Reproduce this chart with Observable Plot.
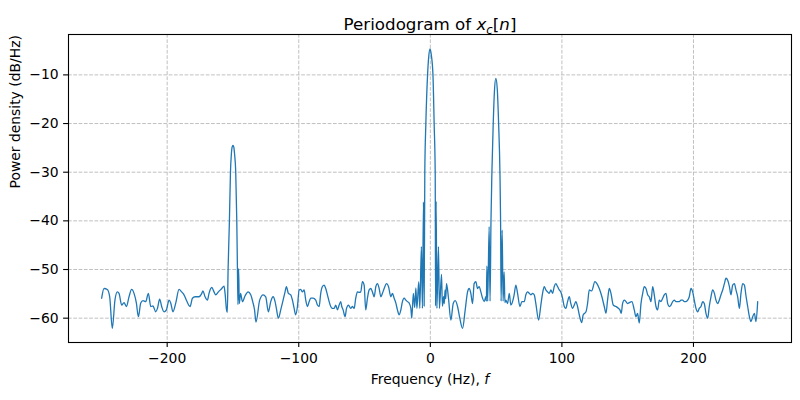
<!DOCTYPE html>
<html><head><meta charset="utf-8">
<script src="https://cdn.jsdelivr.net/npm/d3@7"></script>
<script src="https://cdn.jsdelivr.net/npm/@observablehq/plot@0.6"></script>
<style>body{margin:0;background:#fff} svg{display:block}</style>
</head><body><div id="chart"></div>
<script>
const titleText = "Periodogram of x_c[n]";
const xLabel = "Frequency (Hz), f";
const yLabel = "Power density (dB/Hz)";
const xTicks = [-200, -100, 0, 100, 200];
const yTicks = [-60, -50, -40, -30, -20, -10];

// [frequency Hz, power dB/Hz]
const noiseFarLeft = [[-249.8,-55.9],[-248.0,-53.9],[-245.5,-54.1],[-243.7,-55.6],[-241.7,-62.1],[-239.7,-56.3],[-237.9,-54.6],[-236.6,-54.9],[-234.6,-57.3],[-232.8,-56.8],[-231.0,-57.6],[-229.0,-55.6],[-227.0,-54.1],[-225.2,-54.9],[-223.4,-56.9],[-221.9,-59.7],[-220.1,-56.9],[-218.4,-56.4],[-216.3,-56.6],[-214.3,-54.9],[-212.5,-57.6],[-210.8,-57.5],[-208.7,-58.7],[-207.4,-58.0],[-205.7,-56.1],[-204.2,-57.6],[-202.4,-58.7],[-200.6,-58.3],[-198.6,-56.3],[-197.3,-56.9],[-195.6,-58.7],[-193.5,-56.9],[-191.0,-54.1],[-189.0,-54.6],[-187.2,-55.2],[-185.4,-56.3],[-182.6,-57.6],[-180.8,-55.9],[-178.8,-55.6],[-175.8,-55.6],[-173.7,-54.9],[-172.8,-54.4],[-171.2,-55.6],[-169.4,-56.3],[-168.2,-54.9],[-166.1,-53.7],[-164.4,-54.6],[-163.1,-55.2],[-161.1,-54.6],[-158.5,-53.9],[-156.8,-53.4],[-156.0,-54.9],[-154.9,-58.3]];
const peakMinus150 = [[-154.3,-58.8],[-153.7,-50],[-152.7,-40],[-151.9,-30],[-151.2,-26.2],[-150.6,-24.8],[-150.0,-24.5],[-149.4,-24.8],[-148.8,-26.2],[-147.9,-30],[-147.1,-40],[-146.6,-50],[-146.2,-57.2],[-145.7,-49.8],[-145.2,-57.0],[-144.2,-54.9],[-142.8,-56.6],[-140.8,-55.4],[-138.5,-54.6],[-136.5,-55.2],[-135.0,-56.6],[-133.6,-58.3],[-132.5,-60.8]];
const noiseMidLeft = [[-129.7,-56.3],[-127.1,-55.2],[-125.1,-55.6],[-123.1,-58.7],[-121.3,-56.6],[-119.5,-55.6],[-118.0,-56.6],[-117.0,-58.0],[-115.5,-60.0],[-113.7,-58.3],[-111.9,-56.3],[-110.4,-54.6],[-109.4,-53.5],[-107.9,-54.9],[-106.1,-55.2],[-104.8,-56.3],[-103.5,-58.0],[-102.3,-59.3],[-101.0,-57.6],[-99.7,-54.2],[-98.5,-54.1],[-97.2,-54.6],[-95.9,-54.2],[-94.7,-56.3],[-93.4,-57.6],[-92.1,-56.6],[-90.9,-55.9],[-89.1,-55.9],[-87.1,-56.3],[-85.8,-57.3],[-84.5,-57.6],[-83.3,-54.9],[-82.0,-53.5],[-80.7,-53.2],[-79.5,-53.9],[-78.2,-55.2],[-76.9,-56.6],[-75.7,-57.6],[-74.4,-58.0],[-73.1,-58.0],[-71.9,-57.3],[-70.6,-58.3],[-69.3,-57.3],[-68.1,-56.6],[-67.3,-57.6],[-66.3,-58.3],[-64.8,-59.7],[-63.7,-58.0],[-62.2,-57.3],[-60.5,-58.0],[-59.2,-57.6],[-57.9,-58.0],[-56.7,-55.9],[-55.4,-54.6],[-54.1,-54.7],[-52.9,-54.6],[-51.6,-52.5],[-50.3,-53.2],[-49.1,-58.3],[-47.8,-55.9],[-46.5,-54.2],[-45.2,-53.9],[-44.0,-54.6],[-42.7,-55.6],[-41.4,-53.5],[-40.2,-52.9],[-38.9,-53.9],[-37.6,-55.6],[-36.4,-54.9],[-35.1,-53.9],[-33.3,-52.9],[-31.8,-53.5],[-30.0,-55.6],[-28.8,-54.9],[-27.5,-55.9],[-26.2,-56.9],[-25.0,-58.3],[-23.7,-59.3],[-22.4,-58.3],[-21.2,-56.6],[-19.9,-55.9],[-18.6,-56.3],[-17.4,-56.6],[-16.1,-56.9],[-14.8,-58.0],[-14.1,-60.0]];
const peakZero = [[-12.9,-54.9],[-11.9,-57.8],[-11.0,-53.8],[-10.2,-58.0],[-8.8,-52.5],[-8.0,-58.0],[-6.8,-45.3],[-6.0,-58.0],[-5.2,-36.1],[-4.7,-57.5],[-4.2,-30],[-3.4,-20],[-2.1,-10],[-1.2,-6.2],[-0.2,-4.65],[0.8,-6.0],[2.0,-10],[2.9,-20],[3.7,-30],[4.0,-57.5],[4.4,-36.0],[5.0,-58.0],[6.2,-45.3],[6.9,-58.0],[8.5,-51.0],[9.2,-57.5],[10.1,-55.6],[10.6,-57.0],[11.2,-54.2],[11.7,-56.0],[12.3,-52.9]];
const noiseCentre = [[13.8,-55.9],[15.6,-60.4],[17.4,-57.0],[18.9,-56.4],[20.7,-57.6],[22.4,-60.0],[24.5,-62.1],[26.5,-58.3],[28.3,-54.6],[29.5,-53.9],[30.8,-54.9],[32.1,-57.0],[33.3,-52.9],[34.6,-52.5],[35.9,-53.9],[37.1,-53.5],[38.4,-54.6],[39.7,-55.9],[41.0,-56.6],[42.2,-55.6]];
const peak50 = [[42.6,-56.5],[43.0,-49.3],[43.6,-56.5],[44.7,-41.2],[45.4,-56.5],[46.1,-40],[46.8,-30],[47.8,-20],[48.8,-13],[49.8,-10.7],[50.9,-13],[51.9,-20],[52.9,-30],[53.4,-40],[53.8,-56.5],[54.6,-41.9],[55.3,-56.5],[56.1,-50.5],[56.7,-56.8],[57.4,-56.3],[58.7,-57.0]];
const noiseMidRight = [[60.0,-54.9],[61.2,-57.3],[62.5,-56.6],[63.7,-55.2],[65.0,-53.2],[66.3,-54.9],[68.1,-57.6],[69.6,-56.6],[71.4,-56.6],[72.6,-55.2],[73.9,-54.6],[75.2,-54.9],[76.4,-55.2],[77.7,-54.9],[79.0,-55.2],[80.2,-57.0],[82.3,-60.4],[84.0,-57.3],[85.3,-54.9],[86.6,-53.5],[87.8,-54.2],[89.1,-54.6],[90.4,-54.9],[91.6,-54.2],[92.9,-54.9],[94.2,-53.5],[95.4,-52.9],[96.7,-53.5],[98.0,-54.2],[99.2,-54.6],[100.5,-55.9],[101.8,-57.6],[103.0,-58.0],[104.3,-56.6],[105.6,-55.6],[106.8,-57.0],[108.1,-58.0],[109.4,-57.3],[110.6,-56.6]];
const noiseFarRight = [[111.9,-57.6],[113.2,-59.3],[115.0,-60.9],[116.2,-59.3],[118.3,-58.7],[119.5,-57.0],[120.8,-54.2],[122.6,-54.4],[125.1,-52.5],[126.6,-52.9],[128.4,-53.9],[130.4,-55.6],[132.2,-57.6],[133.5,-59.0],[134.7,-56.3],[136.0,-53.9],[137.3,-54.9],[139.0,-57.3],[141.1,-57.6],[143.1,-58.0],[144.1,-58.3],[145.1,-59.0],[146.1,-57.0],[147.4,-56.3],[148.7,-56.6],[149.9,-57.0],[151.2,-56.8],[153.2,-56.6],[155.0,-58.3],[156.3,-59.7],[157.5,-59.0],[158.8,-61.0],[160.1,-57.0],[161.4,-54.9],[162.6,-53.5],[163.9,-53.9],[165.2,-55.2],[166.4,-55.6],[167.7,-56.6],[169.0,-53.5],[170.2,-55.2],[171.5,-57.6],[172.8,-58.3],[174.0,-56.3],[175.3,-56.6],[176.6,-55.9],[177.8,-55.2],[179.1,-54.9],[180.4,-57.0],[181.6,-57.6],[182.9,-57.3],[184.2,-56.6],[185.4,-56.3],[186.7,-56.6],[188.0,-56.6],[189.2,-56.6],[190.5,-56.3],[191.8,-56.3],[193.0,-56.6],[194.3,-56.6],[195.6,-56.3],[196.8,-55.6],[198.1,-53.9],[199.4,-54.6],[200.6,-56.3],[201.9,-58.0],[203.2,-58.7],[204.4,-58.0],[205.7,-57.6],[207.0,-56.6],[208.2,-57.0],[209.5,-59.0],[210.8,-60.0],[212.0,-57.6],[213.3,-55.6],[214.6,-54.2],[215.9,-54.9],[217.1,-56.3],[218.4,-57.0],[219.6,-56.3],[220.9,-55.2],[222.2,-54.2],[223.5,-52.9],[224.7,-51.8],[226.0,-52.2],[227.3,-53.5],[228.5,-55.2],[229.8,-53.2],[231.1,-52.9],[232.3,-54.2],[233.6,-55.6],[234.9,-58.0],[236.1,-54.9],[237.4,-52.9],[238.7,-53.2],[240.0,-55.6],[241.2,-57.6],[242.5,-59.7],[243.7,-60.7],[245.0,-59.7],[246.3,-59.0],[247.5,-60.7],[248.8,-56.6]];

const data = [...noiseFarLeft, ...peakMinus150, ...noiseMidLeft, ...peakZero, ...noiseCentre, ...peak50, ...noiseMidRight, ...noiseFarRight]
  .map(([f, p]) => ({f, p}));

const fmt = d => d < 0 ? "\u2212" + Math.abs(d) : String(d);
const gridStyle = {stroke: "#b0b0b0", strokeOpacity: 1, strokeWidth: 0.8, strokeDasharray: "3.7,1.6"};

const chart = Plot.plot({
  width: 800, height: 400,
  marginTop: 34, marginBottom: 58, marginLeft: 68, marginRight: 9,
  style: {fontFamily: "'DejaVu Sans', sans-serif", fontSize: "13.9px", background: "white", color: "black", overflow: "visible"},
  x: {domain: [-275, 274.5]},
  y: {domain: [-65, -1.7]},
  marks: [
    Plot.gridX(xTicks, gridStyle),
    Plot.gridY(yTicks, gridStyle),
    Plot.line(data, {x: "f", y: "p", stroke: "#1f77b4", strokeWidth: 1.3, curve: "monotone-x"}),
    Plot.frame({stroke: "black", strokeWidth: 1.1}),
    Plot.axisX(xTicks, {tickSize: 4.9, tickPadding: 5.6, tickFormat: fmt, label: null, strokeWidth: 1.1}),
    Plot.axisY(yTicks, {tickSize: 4.9, tickPadding: 4.9, tickFormat: fmt, label: null, strokeWidth: 1.1}),
    Plot.text([titleText], {text: d => d, frameAnchor: "top", dy: -16.3, fontSize: 16.7}),
    Plot.text([xLabel], {text: d => d, frameAnchor: "bottom", dy: 41}),
    Plot.text([yLabel], {text: d => d, frameAnchor: "left", rotate: -90, dx: -52.5})
  ]
});
document.getElementById("chart").appendChild(chart);

const root = d3.select(chart);
root.selectAll("text").filter(function() { return this.textContent === titleText; }).each(function() {
  const t = d3.select(this);
  t.text(null);
  t.append("tspan").text("Periodogram of ");
  t.append("tspan").attr("font-style", "italic").text("x");
  t.append("tspan").attr("font-style", "italic").attr("font-size", "11.7px").attr("dy", "3.5").text("c");
  t.append("tspan").attr("dy", "-3.5").text("[");
  t.append("tspan").attr("font-style", "italic").text("n");
  t.append("tspan").text("]");
});
root.selectAll("text").filter(function() { return this.textContent === xLabel; }).each(function() {
  const t = d3.select(this);
  t.text(null);
  t.append("tspan").text("Frequency (Hz), ");
  t.append("tspan").attr("font-style", "italic").text("f");
});
</script>
</body></html>
